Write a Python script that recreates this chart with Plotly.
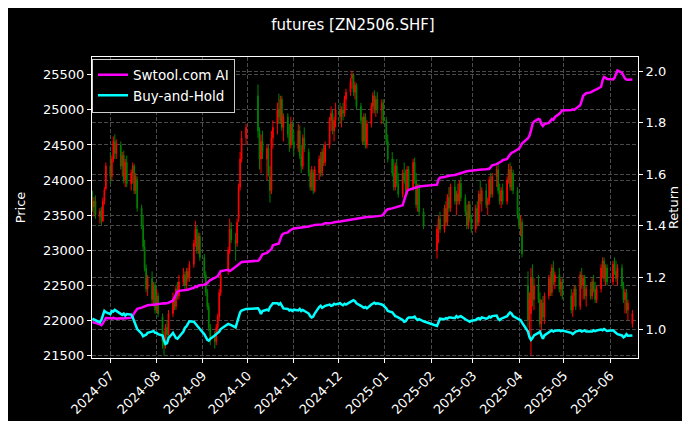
import pandas as pd
import plotly.graph_objects as go

# SHFE trading calendar (weekdays minus exchange holidays)
holidays = [
    "2024-09-16", "2024-09-17",
    "2024-10-01", "2024-10-02", "2024-10-03", "2024-10-04", "2024-10-07",
    "2025-01-01",
    "2025-01-28", "2025-01-29", "2025-01-30", "2025-01-31", "2025-02-03", "2025-02-04",
    "2025-04-04",
    "2025-05-01", "2025-05-02", "2025-05-05",
    "2025-06-02",
]
dates = pd.bdate_range("2024-06-19", "2025-06-16", freq="C", holidays=holidays)

# one row per month: Jun-24 ... Jun-25
opens = [
    23700, 23620, 23700, 23480, 23560, 23420, 23700, 23880,
    24200, 24050, 24300, 24550, 24380, 24500, 24200, 24350, 24000, 24250, 23950, 24100, 24200, 23850, 24000, 23600, 23350, 23050, 22750, 22450, 22600, 22300, 22500,
    22150, 22350, 22050, 21700, 21650, 21900, 21800, 22100, 22300, 22200, 22450, 22350, 22550, 22650, 22500, 22700, 22600, 22800, 23100, 23300, 23000, 23200,
    22900, 22650, 22400, 22200, 21900, 21750, 21700, 21900, 22050, 22400, 22700, 23000, 23300, 23150, 23100, 23450, 23900, 24300, 24600,
    25200, 24700, 24300, 24550, 24300, 24450, 24050, 23850, 24600, 24800, 25000, 24850, 25150, 24750, 24900, 24650, 24500, 24800,
    24550, 24450, 24700, 24350, 24200, 24600, 24400, 24100, 23900, 24100, 23850, 24100, 24300, 24100, 24400, 24250, 24500, 24850, 24950, 24700, 24850,
    25000, 24900, 25000, 24950, 25150, 25250, 25450, 25500, 25250, 25350, 25050, 24850, 24550, 24900, 24500, 24800, 25050, 25200, 25000, 25150, 25000, 25100,
    24850, 24550, 24300, 24100, 23900, 24200, 23950, 23800, 24100, 24000, 23850, 24150, 23900, 24250, 24000, 23650, 23900, 23550,
    23000, 23300, 23450, 23300, 23600, 23400, 23750, 23600, 23900, 23700, 23800, 23700, 23950, 23750, 23550, 23350, 23650, 23450,
    23300, 23600, 23400, 23800, 23700, 23850, 23650, 23700, 24000, 23800, 24050, 24150, 23850, 23700, 23850, 23700, 24000, 24150, 23900, 24100, 23850,
    23500, 23350, 23400, 22500, 22000, 22100, 22600, 22300, 22500, 22300, 21950, 22250, 22050, 22350, 22600, 22400, 22750, 22550, 22650, 22450, 22550,
    22350, 22150, 22350, 22450, 22200, 22650, 22500, 22600, 22350, 22450, 22350, 22550, 22450, 22300, 22450, 22750, 22850, 22600, 22750,
    22550, 22800, 22700, 22600, 22750, 22500, 22300, 22400, 22150, 21950,
]
highs = [
    23850, 23760, 23780, 23600, 23620, 23750, 23900, 24250,
    24400, 24350, 24620, 24650, 24580, 24550, 24400, 24420, 24300, 24350, 24150, 24250, 24230, 24100, 24050, 23650, 23500, 23150, 22800, 22650, 22700, 22550, 22550,
    22450, 22400, 22100, 21850, 21950, 22000, 22150, 22400, 22350, 22500, 22550, 22650, 22750, 22700, 22750, 22750, 22850, 23150, 23420, 23350, 23250, 23250,
    22950, 22700, 22450, 22250, 21950, 21850, 21950, 22100, 22450, 22700, 23050, 23450, 23400, 23250, 23450, 23950, 24400, 24700, 24800,
    25360, 24750, 24650, 24700, 24500, 24500, 24200, 24700, 24850, 25100, 25230, 25200, 25200, 24950, 24950, 24800, 24900, 24850,
    24700, 24800, 24780, 24500, 24650, 24750, 24450, 24150, 24200, 24150, 24200, 24350, 24400, 24450, 24500, 24550, 24900, 25050, 25000, 24900, 25100,
    25100, 25050, 25100, 25200, 25300, 25450, 25560, 25520, 25400, 25380, 25100, 24900, 24950, 24950, 24850, 25100, 25250, 25280, 25200, 25250, 25150, 25150,
    24900, 24650, 24400, 24300, 24250, 24300, 24100, 24150, 24250, 24150, 24200, 24200, 24300, 24320, 24100, 23950, 23950, 23600,
    23350, 23500, 23550, 23650, 23700, 23800, 23900, 23950, 24000, 23850, 23950, 24000, 24050, 23800, 23650, 23700, 23700, 23500,
    23650, 23700, 23850, 24000, 23900, 23950, 23750, 24050, 24100, 24100, 24200, 24230, 23950, 23900, 23950, 24050, 24230, 24250, 24200, 24150, 23900,
    23600, 23500, 23450, 22700, 22400, 22750, 22800, 22600, 22650, 22400, 22300, 22350, 22400, 22650, 22700, 22800, 22850, 22700, 22750, 22600, 22600,
    22450, 22400, 22500, 22500, 22700, 22750, 22650, 22650, 22500, 22550, 22600, 22650, 22550, 22500, 22800, 22900, 22900, 22800, 22800,
    22850, 22900, 22850, 22800, 22800, 22550, 22450, 22450, 22300, 22150,
]
lows = [
    23550, 23480, 23450, 23380, 23360, 23400, 23650, 23850,
    23950, 24000, 24250, 24300, 24300, 24150, 24050, 23950, 23900, 23900, 23850, 23950, 23800, 23800, 23550, 23300, 23000, 22700, 22400, 22350, 22250, 22200, 22100,
    22100, 22050, 21600, 21500, 21600, 21750, 21750, 22050, 22150, 22150, 22300, 22300, 22500, 22450, 22450, 22550, 22550, 22750, 23050, 22950, 22950, 22850,
    22600, 22350, 22150, 21850, 21650, 21600, 21650, 21850, 22000, 22350, 22650, 22950, 23100, 22850, 23050, 23400, 23850, 24250, 24500,
    24600, 24150, 24100, 24300, 24000, 24050, 23680, 23800, 24450, 24650, 24800, 24800, 24700, 24550, 24600, 24400, 24450, 24500,
    24350, 24400, 24300, 24100, 24150, 24400, 24050, 23850, 23850, 23800, 23820, 24000, 24050, 24050, 24200, 24200, 24450, 24700, 24650, 24550, 24750,
    24800, 24750, 24850, 24900, 25000, 25200, 25300, 25200, 25150, 25000, 24800, 24500, 24500, 24450, 24450, 24750, 24950, 24950, 24900, 24950, 24800, 24800,
    24500, 24250, 24050, 23850, 23850, 23900, 23750, 23750, 23950, 23800, 23800, 23850, 23850, 23950, 23600, 23550, 23500, 23300,
    22880, 23100, 23250, 23250, 23350, 23350, 23550, 23550, 23650, 23500, 23650, 23650, 23700, 23500, 23300, 23300, 23400, 23250,
    23250, 23350, 23350, 23650, 23550, 23600, 23500, 23650, 23750, 23750, 23900, 23800, 23650, 23600, 23650, 23650, 23950, 23850, 23850, 23800, 23450,
    23300, 23200, 22900, 21900, 21800, 21500, 22200, 22150, 22250, 21900, 21850, 22000, 21950, 22300, 22350, 22350, 22500, 22450, 22400, 22350, 22300,
    22100, 22050, 22200, 22150, 22150, 22450, 22300, 22300, 22200, 22300, 22300, 22400, 22250, 22250, 22400, 22600, 22550, 22500, 22500,
    22500, 22650, 22550, 22500, 22450, 22250, 22100, 22100, 22000, 21900,
]
closes = [
    23620, 23700, 23500, 23560, 23420, 23700, 23860, 24200,
    24050, 24300, 24550, 24380, 24520, 24200, 24350, 24000, 24250, 23950, 24100, 24200, 23850, 24050, 23600, 23350, 23050, 22750, 22450, 22600, 22300, 22500, 22150,
    22350, 22100, 21700, 21650, 21900, 21800, 22100, 22300, 22200, 22450, 22350, 22550, 22650, 22500, 22700, 22600, 22800, 23100, 23300, 23000, 23200, 22900,
    22650, 22400, 22200, 21900, 21750, 21700, 21900, 22050, 22400, 22650, 23000, 23300, 23150, 23100, 23400, 23900, 24300, 24600, 24750,
    24700, 24300, 24550, 24400, 24450, 24100, 23850, 24600, 24750, 25000, 24900, 25150, 24750, 24900, 24650, 24500, 24800, 24550,
    24450, 24700, 24350, 24200, 24600, 24450, 24100, 23900, 24150, 23850, 24150, 24300, 24100, 24400, 24250, 24500, 24850, 24950, 24700, 24850, 25000,
    24900, 25000, 24950, 25150, 25250, 25400, 25500, 25250, 25350, 25050, 24850, 24550, 24900, 24500, 24800, 25050, 25200, 25000, 25150, 25000, 25100, 24850,
    24550, 24300, 24100, 23900, 24200, 23950, 23800, 24100, 24000, 23850, 24150, 23900, 24250, 24000, 23650, 23900, 23550, 23350,
    23300, 23450, 23300, 23600, 23400, 23750, 23600, 23900, 23700, 23800, 23700, 23950, 23750, 23550, 23350, 23650, 23450, 23300,
    23600, 23400, 23800, 23700, 23850, 23650, 23700, 24000, 23800, 24050, 24150, 23850, 23700, 23850, 23700, 24000, 24150, 23900, 24100, 23850, 23500,
    23350, 23400, 22950, 22000, 22300, 22600, 22300, 22500, 22300, 21950, 22250, 22050, 22350, 22600, 22400, 22750, 22550, 22650, 22450, 22550, 22350,
    22150, 22350, 22450, 22200, 22650, 22500, 22600, 22350, 22450, 22350, 22550, 22450, 22300, 22450, 22750, 22850, 22600, 22750, 22550,
    22800, 22700, 22600, 22750, 22500, 22300, 22400, 22150, 22250, 22100,
]

ai_return = [
    1.026, 1.026, 1.024, 1.018, 1.015, 1.022, 1.035, 1.043,
    1.042, 1.040, 1.043, 1.041, 1.040, 1.042, 1.040, 1.041, 1.043, 1.042, 1.044, 1.050, 1.062, 1.072, 1.078, 1.083, 1.085, 1.088, 1.090, 1.092, 1.094, 1.096, 1.095,
    1.096, 1.097, 1.098, 1.100, 1.099, 1.100, 1.102, 1.110, 1.120, 1.135, 1.145, 1.148, 1.150, 1.148, 1.150, 1.152, 1.155, 1.160, 1.165, 1.163, 1.168, 1.170,
    1.172, 1.175, 1.178, 1.185, 1.190, 1.198, 1.200, 1.205, 1.215, 1.225, 1.230, 1.225, 1.228, 1.240, 1.245, 1.250, 1.255, 1.260, 1.262,
    1.265, 1.270, 1.280, 1.290, 1.295, 1.300, 1.302, 1.310, 1.325, 1.330, 1.332, 1.350, 1.365, 1.370, 1.375, 1.380, 1.385, 1.388,
    1.390, 1.392, 1.393, 1.392, 1.395, 1.396, 1.398, 1.400, 1.400, 1.402, 1.404, 1.405, 1.404, 1.406, 1.408, 1.410, 1.410, 1.412, 1.413, 1.414, 1.415,
    1.417, 1.418, 1.420, 1.421, 1.422, 1.424, 1.425, 1.427, 1.428, 1.430, 1.431, 1.432, 1.433, 1.434, 1.435, 1.436, 1.436, 1.437, 1.437, 1.438, 1.440, 1.445,
    1.460, 1.465, 1.468, 1.470, 1.472, 1.474, 1.476, 1.480, 1.500, 1.520, 1.535, 1.540, 1.545, 1.548, 1.550, 1.552, 1.553, 1.555,
    1.560, 1.580, 1.587, 1.590, 1.592, 1.594, 1.595, 1.596, 1.598, 1.600, 1.602, 1.605, 1.607, 1.610, 1.612, 1.613, 1.614, 1.615,
    1.616, 1.617, 1.618, 1.618, 1.619, 1.620, 1.621, 1.622, 1.628, 1.635, 1.640, 1.643, 1.645, 1.650, 1.655, 1.660, 1.670, 1.678, 1.684, 1.686, 1.695,
    1.700, 1.710, 1.720, 1.740, 1.750, 1.770, 1.795, 1.805, 1.815, 1.812, 1.795, 1.788, 1.795, 1.800, 1.808, 1.815, 1.812, 1.822, 1.835, 1.842, 1.848,
    1.850, 1.852, 1.850, 1.855, 1.868, 1.885, 1.905, 1.910, 1.915, 1.918, 1.922, 1.925, 1.928, 1.930, 1.940, 1.965, 1.978, 1.975, 1.970,
    1.968, 1.975, 1.990, 2.003, 1.995, 1.980, 1.972, 1.968, 1.967, 1.968,
]
bh_return = [
    1.040, 1.037, 1.035, 1.026, 1.035, 1.055, 1.070, 1.065,
    1.058, 1.070, 1.068, 1.074, 1.070, 1.058, 1.055, 1.060, 1.052, 1.058, 1.056, 1.045, 1.030, 1.012, 1.000, 0.982, 0.972, 0.975, 0.978, 0.985, 0.990, 0.992, 0.985,
    0.985, 0.980, 0.975, 0.955, 0.942, 0.945, 0.965, 0.985, 0.975, 0.965, 0.962, 0.970, 0.990, 1.005, 1.010, 1.020, 1.030, 1.028, 1.020, 1.015, 1.008, 1.000,
    0.980, 0.965, 0.958, 0.955, 0.962, 0.975, 0.982, 0.985, 0.990, 1.000, 1.020, 1.018, 1.015, 1.006, 1.025, 1.045, 1.065, 1.072, 1.078,
    1.080, 1.072, 1.058, 1.070, 1.075, 1.072, 1.085, 1.095, 1.100, 1.100, 1.095, 1.100, 1.092, 1.080, 1.078, 1.072, 1.075, 1.070,
    1.075, 1.072, 1.078, 1.070, 1.074, 1.070, 1.060, 1.050, 1.045, 1.048, 1.060, 1.085, 1.090, 1.082, 1.088, 1.090, 1.095, 1.090, 1.092, 1.098, 1.095,
    1.100, 1.095, 1.092, 1.098, 1.095, 1.105, 1.110, 1.112, 1.108, 1.100, 1.090, 1.085, 1.082, 1.085, 1.080, 1.095, 1.100, 1.102, 1.098, 1.100, 1.095, 1.092,
    1.080, 1.070, 1.065, 1.055, 1.050, 1.048, 1.045, 1.035, 1.028, 1.030, 1.040, 1.045, 1.045, 1.048, 1.040, 1.035, 1.038, 1.030,
    1.012, 1.028, 1.040, 1.038, 1.042, 1.040, 1.045, 1.045, 1.042, 1.050, 1.045, 1.048, 1.050, 1.038, 1.035, 1.030, 1.028, 1.032,
    1.035, 1.040, 1.042, 1.038, 1.045, 1.040, 1.042, 1.048, 1.045, 1.050, 1.052, 1.040, 1.035, 1.040, 1.042, 1.050, 1.058, 1.064, 1.060, 1.050, 1.040,
    1.038, 1.035, 1.025, 0.990, 0.968, 0.958, 0.965, 0.975, 0.985, 0.990, 0.975, 0.962, 0.975, 0.985, 0.990, 0.995, 0.990, 0.993, 0.995, 0.992, 0.994,
    0.985, 0.980, 0.984, 0.990, 0.995, 0.990, 0.993, 0.995, 0.990, 0.988, 0.990, 0.995, 0.992, 0.994, 0.998, 0.995, 1.000, 0.996, 0.992,
    0.995, 0.990, 0.985, 0.980, 0.975, 0.968, 0.972, 0.980, 0.974, 0.975,
]

for arr in (opens, highs, lows, closes, ai_return, bh_return):
    assert len(arr) == len(dates), (len(arr), len(dates))

grid = dict(showgrid=True, gridcolor="#4a4a4a", gridwidth=0.6, griddash="4px,2px")
axis_font = dict(family="DejaVu Sans", size=13, color="white")

fig = go.Figure()

fig.add_trace(go.Candlestick(
    x=dates,
    open=opens,
    high=highs,
    low=lows,
    close=closes,
    increasing=dict(line=dict(color="#ff0000", width=1), fillcolor="#ff0000"),
    decreasing=dict(line=dict(color="#008000", width=1), fillcolor="#008000"),
    whiskerwidth=0,
    showlegend=False,
    name="Price"
))

fig.add_trace(go.Scatter(
    x=dates,
    y=ai_return,
    name="Swtool.com AI",
    mode="lines",
    yaxis="y2",
    line=dict(color="#ff00ff", width=2.5)
))

fig.add_trace(go.Scatter(
    x=dates,
    y=bh_return,
    name="Buy-and-Hold",
    mode="lines",
    yaxis="y2",
    line=dict(color="#00ffff", width=2.5)
))

fig.update_layout(

    width=690,
    height=421,

    margin=dict(
        l=84,
        r=60,
        t=49,
        b=71
    ),

    paper_bgcolor="black",
    plot_bgcolor="black",

    font=dict(family="DejaVu Sans", size=13, color="white"),

    title=dict(
        text="futures [ZN2506.SHF]",
        x=0.5,
        xref="container",
        xanchor="center",
        y=1 - 17 / 421,
        yref="container",
        yanchor="middle",
        font=dict(family="DejaVu Sans", size=15, color="white")
    ),

    xaxis=dict(
        type="date",
        range=["2024-06-18 17:00", "2025-06-19 18:00"],
        tick0="2024-07-01",
        dtick="M1",
        tickformat="%Y-%m",
        tickangle=-45,
        ticks="outside",
        ticklen=4,
        tickcolor="white",
        tickfont=axis_font,
        showline=True,
        linecolor="white",
        linewidth=1,
        mirror=True,
        rangeslider=dict(visible=False),
        zeroline=False,
        **grid
    ),

    yaxis=dict(
        range=[21467, 25752],
        tick0=0,
        dtick=500,
        tickformat="d",
        ticks="outside",
        ticklen=4,
        tickcolor="white",
        tickfont=axis_font,
        showline=True,
        linecolor="white",
        linewidth=1,
        mirror=True,
        zeroline=False,
        title=dict(text="Price", font=axis_font, standoff=14),
        **grid
    ),

    yaxis2=dict(
        overlaying="y",
        side="right",
        range=[0.8875, 2.0555],
        tick0=0,
        dtick=0.2,
        tickformat=".1f",
        ticks="outside",
        ticklen=4,
        tickcolor="white",
        tickfont=axis_font,
        showline=True,
        linecolor="white",
        linewidth=1,
        zeroline=False,
        title=dict(text="Return", font=axis_font, standoff=2),
        **grid
    ),

    legend=dict(
        x=0.0,
        y=0.995,
        xanchor="left",
        yanchor="top",
        bgcolor="black",
        bordercolor="#cccccc",
        borderwidth=1,
        font=dict(family="DejaVu Sans", size=13.5, color="white")
    ),

    hovermode="x unified"

)

fig.write_html("out.html")
